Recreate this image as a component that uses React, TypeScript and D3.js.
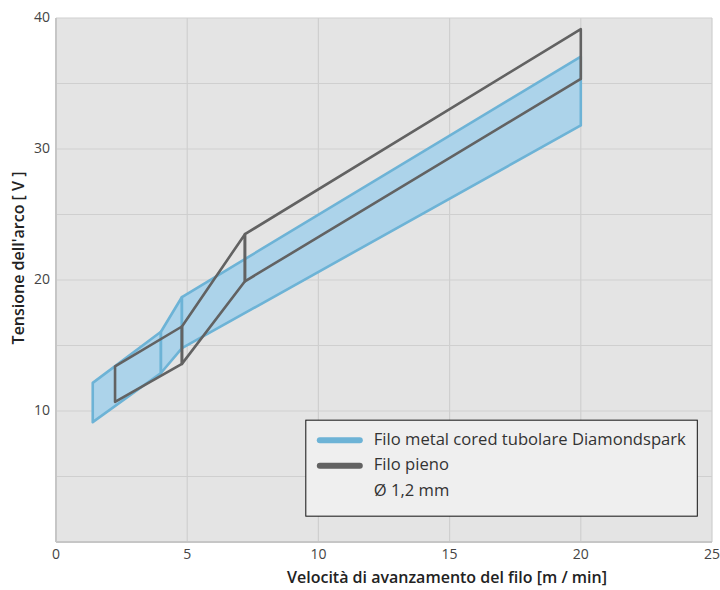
import React from "react";
import * as d3 from "d3";

const WIDTH = 720;
const HEIGHT = 590;
const MARGIN = { top: 18, right: 8, bottom: 48, left: 56 };

// Diamondspark metal cored band (upper/lower voltage per wire speed)
const blueX = [1.4, 4, 4.8, 20];
const blueUpper = [12.15, 16.05, 18.7, 37.05];
const blueLower = [9.15, 12.9, 14.8, 31.8];

// Filo pieno band
const grayX = [2.25, 4.8, 7.2, 20];
const grayUpper = [13.4, 16.45, 23.5, 39.15];
const grayLower = [10.7, 13.6, 19.9, 35.35];

const xTicks = [0, 5, 10, 15, 20, 25];
const yTickLabels = [10, 20, 30, 40];
const yGrid = [0, 5, 10, 15, 20, 25, 30, 35, 40];

const legendItems = [
  { label: "Filo metal cored tubolare Diamondspark", color: "#6db3d6" },
  { label: "Filo pieno", color: "#626262" },
  { label: "Ø 1,2 mm", color: null },
];

const FONT = "'Open Sans', 'Noto Sans', sans-serif";

export default function App() {
  const innerW = WIDTH - MARGIN.left - MARGIN.right;
  const innerH = HEIGHT - MARGIN.top - MARGIN.bottom;

  const x = d3.scaleLinear().domain([0, 25]).range([0, innerW]);
  const y = d3.scaleLinear().domain([0, 40]).range([innerH, 0]);

  const line = d3
    .line<[number, number]>()
    .x((d) => x(d[0]))
    .y((d) => y(d[1]));

  // each band is drawn as a chain of quads so the inner verticals show
  const quads = (xs: number[], up: number[], lo: number[]) =>
    xs.slice(0, -1).map((_, i) => {
      const pts: [number, number][] = [
        [xs[i], up[i]],
        [xs[i + 1], up[i + 1]],
        [xs[i + 1], lo[i + 1]],
        [xs[i], lo[i]],
      ];
      return line(pts) + "Z";
    });

  const blueQuads = quads(blueX, blueUpper, blueLower);
  const grayQuads = quads(grayX, grayUpper, grayLower);

  return (
    <svg
      width={WIDTH}
      height={HEIGHT}
      style={{ position: "absolute", left: 0, top: 0, background: "#fff" }}
    >
      <g transform={`translate(${MARGIN.left},${MARGIN.top})`}>
        <rect x={0} y={0} width={innerW} height={innerH} fill="#e4e4e4" />

        {/* grid */}
        {yGrid.map((v) => (
          <line
            key={"gy" + v}
            x1={0}
            x2={innerW}
            y1={y(v)}
            y2={y(v)}
            stroke="#cfcfcf"
            strokeWidth={1.2}
          />
        ))}
        {xTicks.map((v) => (
          <line
            key={"gx" + v}
            x1={x(v)}
            x2={x(v)}
            y1={0}
            y2={innerH}
            stroke="#cfcfcf"
            strokeWidth={1.2}
          />
        ))}
        <line x1={0} x2={0} y1={0} y2={innerH} stroke="#c6c6c6" strokeWidth={2} />
        <line x1={0} x2={innerW} y1={innerH} y2={innerH} stroke="#c6c6c6" strokeWidth={2} />

        {/* bands */}
        {blueQuads.map((d, i) => (
          <path
            key={"b" + i}
            d={d}
            fill="#acd3ea"
            stroke="#6db3d6"
            strokeWidth={2.6}
            strokeLinejoin="round"
          />
        ))}
        {grayQuads.map((d, i) => (
          <path
            key={"g" + i}
            d={d}
            fill="none"
            stroke="#626262"
            strokeWidth={2.6}
            strokeLinejoin="round"
          />
        ))}

        {/* tick labels */}
        {xTicks.map((v) => (
          <text
            key={"tx" + v}
            x={x(v)}
            y={innerH + 13}
            textAnchor="middle"
            dominantBaseline="middle"
            fontFamily={FONT}
            fontSize={14}
            fill="#444"
          >
            {v}
          </text>
        ))}
        {yTickLabels.map((v) => (
          <text
            key={"ty" + v}
            x={-6}
            y={y(v)}
            textAnchor="end"
            dominantBaseline="middle"
            fontFamily={FONT}
            fontSize={14}
            fill="#444"
          >
            {v}
          </text>
        ))}

        {/* legend */}
        <g transform={`translate(${x(9.52)},${y(9.3)})`}>
          <rect
            x={0}
            y={0}
            width={x(14.92)}
            height={96}
            fill="#efefef"
            stroke="#111"
            strokeWidth={1}
          />
          {legendItems.map((item, i) => (
            <g key={item.label} transform={`translate(0,${20 + i * 25.5})`}>
              {item.color && (
                <line
                  x1={14}
                  x2={54}
                  y1={0}
                  y2={0}
                  stroke={item.color}
                  strokeWidth={6}
                  strokeLinecap="round"
                />
              )}
              <text
                x={68}
                y={0}
                dominantBaseline="middle"
                fontFamily={FONT}
                fontSize={16.6}
                fill="#333"
              >
                {item.label}
              </text>
            </g>
          ))}
        </g>
      </g>

      {/* axis titles */}
      <text
        x={447}
        y={583}
        textAnchor="middle"
        fontFamily={FONT}
        fontSize={16}
        fontWeight={600}
        fill="#222"
      >
        Velocità di avanzamento del filo [m / min]
      </text>
      <text
        transform={`translate(24,258) rotate(-90)`}
        textAnchor="middle"
        fontFamily={FONT}
        fontSize={16}
        fontWeight={600}
        fill="#222"
      >
        Tensione dell'arco [ V ]
      </text>
    </svg>
  );
}
